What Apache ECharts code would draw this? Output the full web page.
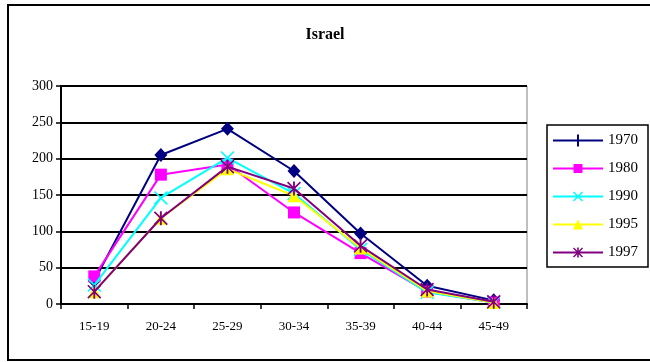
<!DOCTYPE html>
<html>
<head>
<meta charset="utf-8">
<script src="https://cdn.jsdelivr.net/npm/echarts@6/dist/echarts.min.js"></script>
<style>
  html, body { margin: 0; padding: 0; background: #fff; }
  #chart { width: 650px; height: 362px; }
</style>
</head>
<body>
<div id="chart"></div>
<script>
// Age-specific fertility rates, Israel
const ageGroups = ['15-19', '20-24', '25-29', '30-34', '35-39', '40-44', '45-49'];
const years = ['1970', '1980', '1990', '1995', '1997'];
const rates1970 = [32, 205, 241, 183, 97, 25, 5];
const rates1980 = [38, 178, 192, 126, 70, 17, 2];
const rates1990 = [26, 146, 201, 152, 75, 16, 2];
const rates1995 = [17, 118, 186, 149, 77, 18, 2];
const rates1997 = [17, 118, 189, 159, 80, 20, 3];
const yTicks = [0, 50, 100, 150, 200, 250, 300];

const seriesValues = [rates1970, rates1980, rates1990, rates1995, rates1997];
const colors = ['#000080', '#FF00FF', '#00FFFF', '#FFFF00', '#800080'];

// Marker shapes drawn on the lines
const crossPath = 'path://M0,1 L1,0 L12,11 L11,12 Z M11,0 L12,1 L1,12 L0,11 Z';
const starPath = crossPath + ' M5.2,0 L6.8,0 L6.8,12 L5.2,12 Z';
const symbols = ['diamond', 'rect', crossPath, 'triangle', starPath];
const symbolSizes = [[13, 14], 12, 14, 13, 14];

// Legend keys: a line segment with the marker in the middle (50 x 14 box)
const keyFrame = 'M0,0 L0.01,0 L0,0.01 Z M50,14 L49.99,14 L50,13.99 Z ';
const keyLine = 'M0,6 L50,6 L50,8 L0,8 Z ';
const legendIcons = [
  'path://' + keyFrame + keyLine + 'M24,1 L26,1 L26,13 L24,13 Z',
  'path://' + keyFrame + keyLine + 'M20.5,2.5 L29.5,2.5 L29.5,11.5 L20.5,11.5 Z',
  'path://' + keyFrame + keyLine + 'M20,3 L21,2 L30,11 L29,12 Z M29,2 L30,3 L21,12 L20,11 Z',
  'path://' + keyFrame + keyLine + 'M25,2 L30,12 L20,12 Z',
  'path://' + keyFrame + keyLine + 'M20,3 L21,2 L30,11 L29,12 Z M29,2 L30,3 L21,12 L20,11 Z M24.2,2 L25.8,2 L25.8,12 L24.2,12 Z'
];

const serif = '"Liberation Serif", "Times New Roman", serif';

const chart = echarts.init(document.getElementById('chart'), null, { renderer: 'canvas' });

chart.setOption({
  animation: false,
  backgroundColor: '#ffffff',
  title: {
    text: 'Israel',
    left: 'center',
    top: 22,
    textStyle: { fontFamily: serif, fontSize: 16, fontWeight: 'bold', color: '#000' }
  },
  graphic: [{
    type: 'rect',
    shape: { x: 8, y: 5, width: 660, height: 355 },
    style: { fill: null, stroke: '#000', lineWidth: 2 },
    silent: true
  }],
  legend: {
    orient: 'vertical',
    left: 547,
    top: 125,
    padding: [8, 10, 7, 6],
    itemWidth: 50,
    itemHeight: 14,
    itemGap: 13,
    borderColor: '#000',
    borderWidth: 1.5,
    selectedMode: false,
    textStyle: { fontFamily: serif, fontSize: 15, color: '#000', padding: [8, 0, 0, 0] },
    data: years.map((y, i) => ({ name: y, icon: legendIcons[i], itemStyle: { color: colors[i] } }))
  },
  grid: {
    left: 61,
    right: 123,
    top: 86,
    bottom: 58,
    show: true,
    borderColor: '#808080',
    borderWidth: 1,
    containLabel: false
  },
  xAxis: {
    type: 'category',
    data: ageGroups,
    boundaryGap: true,
    axisLine: { lineStyle: { color: '#000', width: 2 } },
    axisTick: { show: true, length: 5, lineStyle: { color: '#000', width: 1.5 } },
    axisLabel: { margin: 16, fontFamily: serif, fontSize: 13, color: '#000' },
    splitLine: { show: false }
  },
  yAxis: {
    type: 'value',
    min: yTicks[0],
    max: yTicks[yTicks.length - 1],
    interval: yTicks[1] - yTicks[0],
    axisLine: { show: true, lineStyle: { color: '#000', width: 2 } },
    axisTick: { show: true, length: 5, lineStyle: { color: '#000', width: 1.5 } },
    axisLabel: { margin: 8, fontFamily: serif, fontSize: 14, color: '#000' },
    splitLine: { show: true, lineStyle: { color: '#000', width: 2 } }
  },
  series: years.map((y, i) => ({
    name: y,
    type: 'line',
    data: seriesValues[i],
    symbol: symbols[i],
    symbolSize: symbolSizes[i],
    symbolKeepAspect: false,
    showAllSymbol: true,
    lineStyle: { color: colors[i], width: 2 },
    itemStyle: { color: colors[i], borderWidth: 0 },
    emphasis: { disabled: true },
    z: 2 + i
  }))
});
</script>
</body>
</html>
